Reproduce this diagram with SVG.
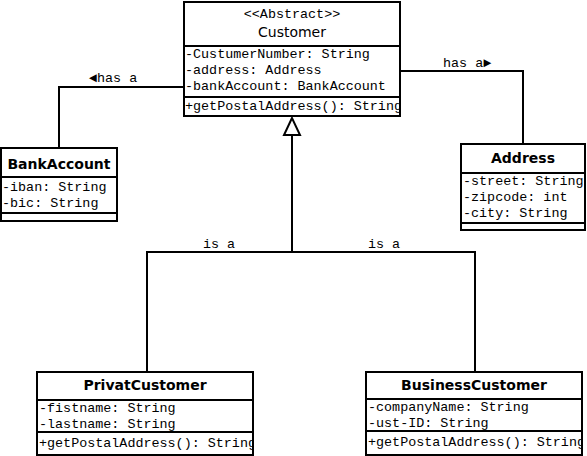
<svg xmlns="http://www.w3.org/2000/svg" width="587" height="456" viewBox="0 0 587 456">
<style>
.box{fill:#fff;stroke:#000;stroke-width:2}
.sep{stroke:#000;stroke-width:2}
.con{fill:none;stroke:#000;stroke-width:2}
.m{font-family:"Liberation Mono","Courier New",monospace;font-size:13.4px;fill:#000}
.t{font-family:"DejaVu Sans",Verdana,sans-serif;font-size:14px;fill:#000;text-anchor:middle}
.b{font-weight:bold}
</style>
<defs>
<clipPath id="cC"><rect x="184" y="1" width="216" height="116"/></clipPath>
<clipPath id="cP"><rect x="37" y="372" width="216" height="84"/></clipPath>
<clipPath id="cB"><rect x="366" y="372" width="216" height="84"/></clipPath>
<clipPath id="cA"><rect x="462" y="144" width="123" height="86"/></clipPath>
</defs>
<rect width="587" height="456" fill="#fff"/>
<g id="connectors">
<polyline class="con" points="59,148 59,87 184,87"/>
<polyline class="con" points="400,71 523,71 523,144"/>
<polyline class="con" points="147,372 147,252 475,252 475,372"/>
<line class="con" x1="292" y1="252" x2="292" y2="134"/>
<polygon points="292,118 284,135 300,135" fill="#fff" stroke="#000" stroke-width="2"/>
<text class="m" x="89" y="82">◄has a</text>
<text class="m" x="443" y="67">has a►</text>
<text class="m" x="203" y="248">is a</text>
<text class="m" x="368" y="248">is a</text>
</g>
<g id="Customer">
<rect class="box" x="184" y="2" width="216" height="114"/>
<line class="sep" x1="184" y1="46" x2="400" y2="46"/>
<line class="sep" x1="184" y1="97" x2="400" y2="97"/>
<text class="m" x="292" y="18" text-anchor="middle">&lt;&lt;Abstract&gt;&gt;</text>
<text class="t" x="292" y="37">Customer</text>
<g clip-path="url(#cC)">
<text class="m" x="185" y="58">-CustumerNumber: String</text>
<text class="m" x="185" y="74">-address: Address</text>
<text class="m" x="185" y="90">-bankAccount: BankAccount</text>
<text class="m" x="185" y="110">+getPostalAddress(): String</text>
</g>
</g>
<g id="BankAccount">
<rect class="box" x="1" y="148" width="116" height="73"/>
<line class="sep" x1="1" y1="177" x2="117" y2="177"/>
<line class="sep" x1="1" y1="213" x2="117" y2="213"/>
<text class="t b" x="59" y="169">BankAccount</text>
<text class="m" x="2" y="191">-iban: String</text>
<text class="m" x="2" y="207">-bic: String</text>
</g>
<g id="Address">
<rect class="box" x="461" y="144" width="124" height="86"/>
<line class="sep" x1="461" y1="173" x2="585" y2="173"/>
<line class="sep" x1="461" y1="223" x2="585" y2="223"/>
<text class="t b" x="523" y="163">Address</text>
<g clip-path="url(#cA)">
<text class="m" x="463" y="185">-street: String</text>
<text class="m" x="463" y="201">-zipcode: int</text>
<text class="m" x="463" y="217">-city: String</text>
</g>
</g>
<g id="PrivatCustomer">
<rect class="box" x="37" y="372" width="216" height="83"/>
<line class="sep" x1="37" y1="400" x2="253" y2="400"/>
<line class="sep" x1="37" y1="432" x2="253" y2="432"/>
<text class="t b" x="145" y="390">PrivatCustomer</text>
<g clip-path="url(#cP)">
<text class="m" x="39" y="412">-fistname: String</text>
<text class="m" x="39" y="428">-lastname: String</text>
<text class="m" x="39" y="447">+getPostalAddress(): String</text>
</g>
</g>
<g id="BusinessCustomer">
<rect class="box" x="366" y="372" width="216" height="83"/>
<line class="sep" x1="366" y1="399" x2="582" y2="399"/>
<line class="sep" x1="366" y1="431" x2="582" y2="431"/>
<text class="t b" x="474" y="390">BusinessCustomer</text>
<g clip-path="url(#cB)">
<text class="m" x="368" y="411">-companyName: String</text>
<text class="m" x="368" y="427">-ust-ID: String</text>
<text class="m" x="368" y="446">+getPostalAddress(): String</text>
</g>
</g>
</svg>
